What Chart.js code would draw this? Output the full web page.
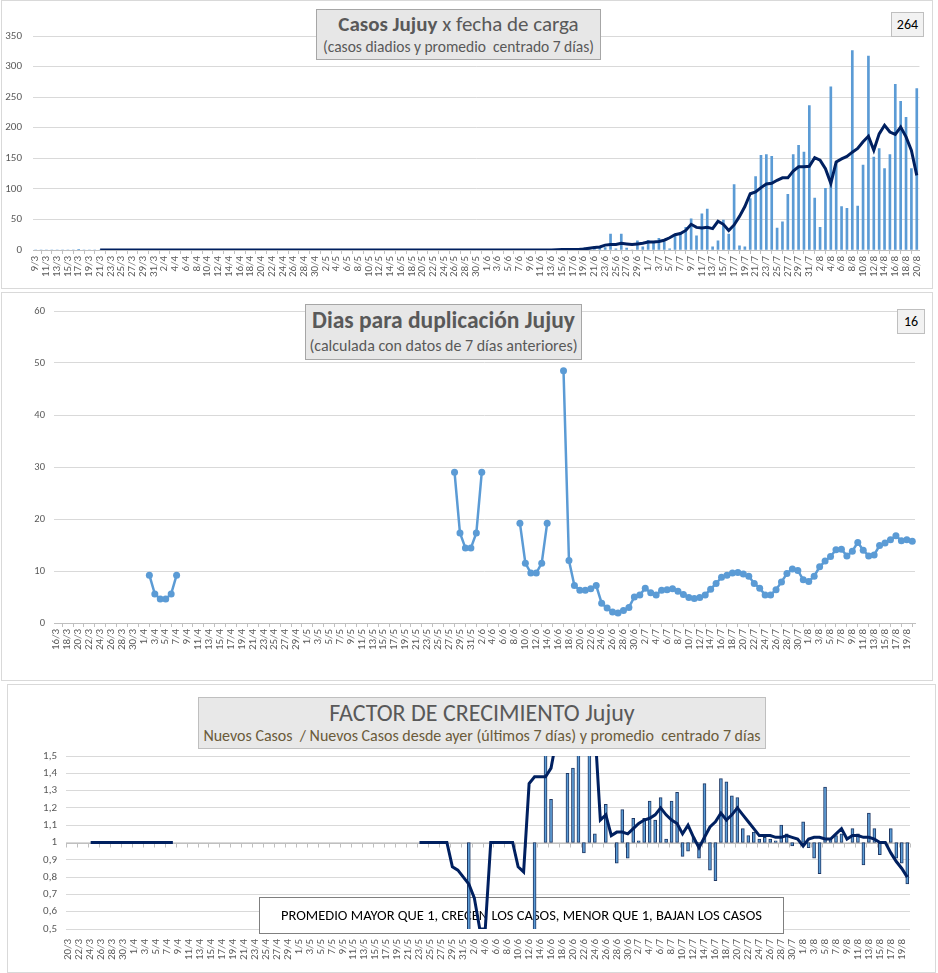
<!DOCTYPE html>
<html>
<head>
<meta charset="utf-8">
<script src="https://cdn.jsdelivr.net/npm/chart.js@4.4.1/dist/chart.umd.min.js"></script>
<style>
  body { margin: 0; background: #fff; font-family: Carlito, Lato, sans-serif; }
  .panel { position: absolute; border: 1px solid #d9d9d9; box-sizing: border-box; background: #fff; }
  .panel canvas { position: absolute; left: 0; top: 0; }
  .tbox { position: absolute; box-sizing: border-box; background: #e7e7e7; border: 1px solid #a6a6a6;
          color: #595959; text-align: center; white-space: nowrap; }
  .vbox { position: absolute; box-sizing: border-box; background: #f2f2f2; border: 1px solid #bfbfbf;
          color: #000; font-size: 14px; text-align: center; }
</style>
</head>
<body>
<div class="panel" style="left:1px;top:0;width:932px;height:289px"><canvas id="c1" width="930" height="287"></canvas></div>
<div class="panel" style="left:1px;top:292px;width:932px;height:389px"><canvas id="c2" width="930" height="387"></canvas></div>
<div class="panel" style="left:7px;top:684px;width:929px;height:289px"><canvas id="c3" width="927" height="287"></canvas></div>

<div class="tbox" style="left:316px;top:9px;width:285px;height:51px">
  <div style="font-size:21px;line-height:24px;margin-top:2px"><b>Casos Jujuy</b> x fecha de carga</div>
  <div style="font-size:15.5px;line-height:18px;margin-top:2px">(casos diadios y promedio&nbsp; centrado 7 días)</div>
</div>
<div class="vbox" style="left:891px;top:12px;width:33px;height:25px;line-height:23px">264</div>

<div class="tbox" style="left:305px;top:304px;width:277px;height:56px">
  <div style="font-size:23.5px;line-height:27px;margin-top:2px;font-weight:bold">Dias para duplicación Jujuy</div>
  <div style="font-size:16px;line-height:19px;margin-top:2px">(calculada con datos de 7 días anteriores)</div>
</div>
<div class="vbox" style="left:897px;top:309px;width:28px;height:25px;line-height:23px">16</div>

<div class="tbox" style="left:198px;top:697px;width:568px;height:52px;background:#e8e8e8;border-color:#bfbfbf">
  <div style="font-size:24px;line-height:26px;margin-top:2px">FACTOR DE CRECIMIENTO Jujuy</div>
  <div style="font-size:16px;line-height:17px;margin-top:1px;color:#6b5b3a">Nuevos Casos&nbsp; / Nuevos Casos desde ayer (últimos 7 días) y promedio&nbsp; centrado 7 días</div>
</div>

<script>
// ---- categories (day/month, 2020) ----
function dayLabels(day, month, count) {
  const monthLen = [0, 31, 29, 31, 30, 31, 30, 31, 31, 30, 31, 30, 31];
  const out = [];
  for (let i = 0; i < count; i++) {
    out.push(day + "/" + month);
    day++;
    if (day > monthLen[month]) { day = 1; month++; }
  }
  return out;
}
const labels1 = dayLabels(9, 3, 165);   // 9/3 .. 20/8
const labels2 = dayLabels(16, 3, 158);  // 16/3 .. 20/8
const labels3 = dayLabels(20, 3, 154);  // 20/3 .. 20/8

// ---- chart 1: casos diarios y promedio centrado 7 dias ----
const casesDaily = [
  0, 0, 0, 0, 0, 0, 0, 0, 1, 0,
  0, 0, 0, 0, 0, 0, 0, 0, 0, 0,
  0, 0, 0, 1, 0, 1, 0, 0, 0, 0,
  0, 0, 0, 0, 0, 0, 0, 0, 0, 0,
  0, 0, 0, 0, 0, 0, 0, 0, 0, 0,
  0, 0, 0, 0, 0, 0, 0, 0, 0, 0,
  0, 0, 0, 0, 0, 0, 0, 0, 0, 0,
  0, 0, 0, 0, 0, 0, 0, 0, 0, 0,
  0, 1, 0, 0, 0, 0, 0, 0, 0, 0,
  0, 1, 0, 0, 0, 0, 0, 1, 2, 0,
  1, 1, 3, 2, 5, 3, 4, 26, 2, 26,
  3, 0, 15, 5, 16, 12, 19, 13, 2, 23,
  27, 37, 51, 23, 59, 67, 5, 15, 49, 26,
  107, 7, 5, 84, 120, 155, 156, 153, 36, 46,
  91, 156, 171, 160, 236, 85, 37, 101, 267, 144,
  71, 68, 326, 72, 139, 317, 152, 166, 133, 156,
  271, 243, 217, 133, 264
];
const casesAvg = [
  null, null, null, null, null, null, null, null, null, null,
  null, null, 0, 0, 0, 0, 0, 0, 0, 0,
  0, 0, 0, 0, 0, 0, 0, 0, 0, 0,
  0, 0, 0, 0, 0, 0, 0, 0, 0, 0,
  0, 0, 0, 0, 0, 0, 0, 0, 0, 0,
  0, 0, 0, 0, 0, 0, 0, 0, 0, 0,
  0, 0, 0, 0, 0, 0, 0, 0, 0, 0,
  0, 0, 0, 0, 0, 0, 0, 0, 0, 0,
  0, 0, 0, 0, 0, 0, 0, 0, 0, 0,
  0, 0, 0, 0, 0, 0, 0, 0.5, 1, 1,
  1, 1, 1.5, 3, 4, 5, 8, 9, 9, 11,
  10, 9, 10, 11, 13, 13, 14, 16, 20, 25,
  27, 32, 42, 37, 36, 37, 35, 47, 42, 32,
  41, 55, 71, 92, 95, 102, 108, 109, 114, 118,
  118, 129, 136, 136, 137, 151, 147, 133, 109, 144,
  149, 153, 160, 166, 177, 186, 163, 190, 204, 193,
  189, 201, 185, 163, 122
];

// ---- chart 2: dias para duplicacion ----
const doublingDays = [
  null, null, null, null, null, null, null, null, null, null,
  null, null, null, null, null, null, null,
  9.2, 5.6, 4.6, 4.6, 5.6, 9.2,
  null, null, null, null, null, null, null, null, null, null,
  null, null, null, null, null, null, null, null, null, null,
  null, null, null, null, null, null, null, null, null, null,
  null, null, null, null, null, null, null, null, null, null,
  null, null, null, null, null, null, null, null, null, null,
  29, 17.3, 14.4, 14.4, 17.3, 29,
  null, null, null, null, null, null,
  19.2, 11.5, 9.6, 9.6, 11.5, 19.2,
  null, null,
  48.5, 12, 7.2, 6.3, 6.3, 6.6, 7.2, 3.8, 2.9, 2.1, 1.9, 2.4, 3.0, 5.0,
  5.4, 6.7, 5.8, 5.4, 6.3, 6.4, 6.6, 6.1, 5.5, 4.9,
  4.7, 4.9, 5.4, 6.5, 7.6, 8.8, 9.2, 9.6, 9.7, 9.4,
  9.0, 7.6, 6.7, 5.4, 5.4, 6.4, 7.9, 9.5, 10.4, 10.1, 8.3,
  8.0, 9.0, 10.8, 11.9, 12.8, 14.1, 14.2, 12.9, 13.8, 15.5,
  14.0, 12.9, 13.1, 14.9, 15.4, 16.0, 16.8, 15.8, 16.0, 15.7
];

// ---- chart 3: factor de crecimiento ----
const growthDaily = [
  null, null, null, null, null, null, null, null, null, null,
  null, null, null, null, null, null, null, null, null, null,
  null, null, null, null, null, null, null, null, null, null,
  null, null, null, null, null, null, null, null, null, null,
  null, null, null, null, null, null, null, null, null, null,
  null, null, null, null, null, null, null, null, null, null,
  null, null, null, null, null, null, null, null, null, null,
  null, null, null, 0.4, null, null, null, null, null, null,
  null, null, null, null, null, 0.3, null, 1.7, 1.25, null,
  null, 1.40, 1.43, 1.7, 0.94, 1.7, 1.05, null, 1.22, null,
  0.88, 1.19, 0.91, 1.14, 1.01, 1.14, 1.24, 1.13, 1.26, 1.02,
  1.24, 1.29, 0.92, 0.95, 1.03, 0.91, 1.34, 0.84, 0.78, 1.37,
  1.35, 1.27, 1.26, 1.08, 1.04, 1.06, 1.02, 1.03, 1.02, 1.01,
  1.10, 1.05, 0.98, 1.0, 1.12, 0.97, 0.91, 0.82, 1.32, 1.02,
  1.04, 1.05, 1.0, 1.08, 1.05, 0.87, 1.17, 1.08, 0.93, 1.0,
  1.08, 0.91, 0.88, 0.76
];
const growthAvg = [
  null, null, null, null,
  1, 1, 1, 1, 1, 1, 1, 1, 1, 1, 1, 1, 1, 1, 1, 1,
  null, null, null, null, null, null, null, null, null, null,
  null, null, null, null, null, null, null, null, null, null,
  null, null, null, null, null, null, null, null, null, null,
  null, null, null, null, null, null, null, null, null, null,
  null, null, null, null,
  1, 1, 1, 1, 1, 1,
  0.86, 0.84, 0.80, 0.76, 0.68, 0.5, 0.5,
  1, 1, 1, 1, 1,
  0.86, 0.83, 1.34, 1.38, 1.38, 1.38, 1.43,
  1.6, 1.75, 1.85, 1.9, 1.85, 1.75, 1.7, 1.66,
  1.13, 1.16, 1.04, 1.06, 1.06, 1.05, 1.08, 1.11, 1.13, 1.14,
  1.16, 1.20, 1.16, 1.13, 1.11, 1.05, 1.10, 1.03, 0.97, 1.03,
  1.09, 1.12, 1.17, 1.13, 1.16, 1.20, 1.16, 1.12, 1.08, 1.04,
  1.04, 1.04, 1.03, 1.03, 1.04, 1.03, 1.02, 0.98, 1.02, 1.03,
  1.03, 1.02, 1.02, 1.05, 1.08, 1.02, 1.04, 1.04, 1.03, 1.03,
  1.02, 1.00, 1.00, 0.94, 0.89, 0.85, 0.80
];
const noteText = "PROMEDIO MAYOR QUE 1, CRECEN LOS CASOS, MENOR QUE 1, BAJAN LOS CASOS";

const FONT = "Carlito, Lato, sans-serif";
Chart.defaults.font.family = FONT;
Chart.defaults.color = "#595959";

const GRID = "#d9d9d9";
const AXIS = "#bfbfbf";

function everyOther(v, i) {
  return i % 2 === 0 ? this.getLabelForValue(v) : null;
}

function xAxis(height, showTicks, pad) {
  return {
    offset: true,
    grid: { display: showTicks, drawOnChartArea: false, drawTicks: true, tickLength: 4, color: AXIS, offset: true },
    border: { display: showTicks, color: AXIS },
    ticks: { autoSkip: false, maxRotation: 90, minRotation: 90, padding: pad, font: { size: 11 }, callback: everyOther },
    afterFit(s) { s.height = height; }
  };
}

function yAxis(width, pad, size, extra) {
  return Object.assign({
    grid: { color: GRID, drawTicks: false },
    border: { display: false },
    afterFit(s) { s.width = width; }
  }, extra, { ticks: Object.assign({ padding: pad, font: { size: size } }, extra.ticks) });
}

const base = {
  responsive: false,
  animation: false,
  plugins: { legend: { display: false }, tooltip: { enabled: false } }
};

// chart 1
new Chart(document.getElementById("c1"), {
  type: "bar",
  data: {
    labels: labels1,
    datasets: [
      { type: "line", data: casesAvg, borderColor: "#002060", borderWidth: 3, pointRadius: 0, tension: 0, order: 0 },
      { type: "bar", data: casesDaily, backgroundColor: "#5b9bd5", barThickness: 2, order: 1 }
    ]
  },
  options: Object.assign({}, base, {
    layout: { padding: { top: 35, right: 7, left: 0, bottom: 0 } },
    scales: {
      x: xAxis(38, true, 2),
      y: yAxis(31, 11, 11, { min: 0, max: 350, ticks: { stepSize: 50 } })
    }
  })
});

// chart 2
new Chart(document.getElementById("c2"), {
  type: "line",
  data: {
    labels: labels2,
    datasets: [{
      data: doublingDays, borderColor: "#5b9bd5", borderWidth: 2.5, tension: 0,
      pointRadius: 3.5, pointBackgroundColor: "#5b9bd5", pointBorderWidth: 0, spanGaps: false
    }]
  },
  options: Object.assign({}, base, {
    layout: { padding: { top: 18, right: 17, left: 0, bottom: 0 } },
    scales: {
      x: xAxis(57, true, 2),
      y: yAxis(52, 9, 10.5, { min: 0, max: 60, ticks: { stepSize: 10 } })
    }
  })
});

// chart 3: axis drawn at factor = 1, note box under the series
const axisAtOne = {
  id: "axisAtOne",
  beforeDatasetsDraw(chart) {
    const { ctx, chartArea, scales } = chart;
    const y = Math.round(scales.y.getPixelForValue(1)) + 0.5;
    const n = chart.data.labels.length;
    const w = (chartArea.right - chartArea.left) / n;
    ctx.save();
    ctx.strokeStyle = AXIS;
    ctx.lineWidth = 1;
    ctx.beginPath();
    ctx.moveTo(chartArea.left, y);
    ctx.lineTo(chartArea.right, y);
    for (let i = 0; i <= n; i += 2) {
      const x = Math.round(chartArea.left + i * w) + 0.5;
      ctx.moveTo(x, y);
      ctx.lineTo(x, y + 4);
    }
    ctx.stroke();

    // note box: left/top relative to the plot area
    const bx = chartArea.left + 193, by = chartArea.top + 141, bw = 525, bh = 37;
    ctx.fillStyle = "#fff";
    ctx.fillRect(bx, by, bw, bh);
    ctx.strokeStyle = "#7f7f7f";
    ctx.strokeRect(bx + 0.5, by + 0.5, bw - 1, bh - 1);
    ctx.fillStyle = "#000";
    ctx.font = "14.5px " + FONT;
    ctx.textAlign = "center";
    ctx.textBaseline = "middle";
    ctx.fillText(noteText, bx + bw / 2, by + bh / 2 + 1);
    ctx.restore();
  }
};

new Chart(document.getElementById("c3"), {
  type: "bar",
  data: {
    labels: labels3,
    datasets: [
      { type: "line", data: growthAvg, borderColor: "#002060", borderWidth: 3, pointRadius: 0, tension: 0, order: 0 },
      { type: "bar", data: growthDaily.map(v => v === null ? null : [1, v]),
        backgroundColor: "#5b9bd5", borderColor: "#1f3864", borderWidth: 1, borderSkipped: false,
        barThickness: 3, order: 1 }
    ]
  },
  options: Object.assign({}, base, {
    layout: { padding: { top: 71, right: 25, left: 0, bottom: 0 } },
    scales: {
      x: xAxis(43, false, 6),
      y: yAxis(58, 9, 11, {
        min: 0.5, max: 1.5,
        ticks: { stepSize: 0.1, callback: v => String(Math.round(v * 10) / 10).replace(".", ",") }
      })
    }
  }),
  plugins: [axisAtOne]
});
</script>
</body>
</html>
